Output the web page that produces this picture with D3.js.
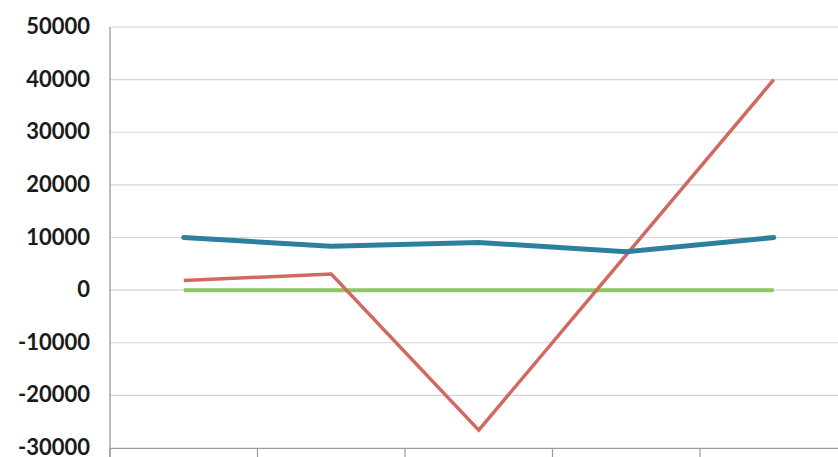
<!DOCTYPE html>
<html><head><meta charset="utf-8">
<script src="https://cdn.jsdelivr.net/npm/d3@7"></script>
<style>html,body{margin:0;padding:0;background:#fff;overflow:hidden}svg{display:block}</style>
</head><body>
<svg id="c" width="838" height="457"></svg>
<script>
const categories = ["1", "2", "3", "4", "5"];
const blueValues = [10000, 8350, 9050, 7300, 10000];
const redValues = [1850, 3050, -26600, 6700, 40000];
const greenValues = [0, 0, 0, 0, 0];
const yTicks = [50000, 40000, 30000, 20000, 10000, 0, -10000, -20000, -30000];

const svg = d3.select("#c");
const x = d3.scaleBand().domain(categories).range([110, 847.5]);
const y = d3.scaleLinear().domain([-30000, 50000]).range([448, 27]);

// gridlines
svg.append("g").selectAll("line").data(yTicks).join("line")
  .attr("x1", 110).attr("x2", 838)
  .attr("y1", d => y(d)).attr("y2", d => y(d))
  .attr("stroke", "#d4d4d4").attr("stroke-width", 1.2);

// y axis
const yAxis = d3.axisLeft(y).tickValues(yTicks).tickSize(0).tickPadding(20).tickFormat(d => String(d));
const gy = svg.append("g").attr("transform", "translate(110,0)").call(yAxis);
gy.select(".domain").attr("stroke", "#9a9a9a").attr("stroke-width", 1.3)
  .attr("d", `M0,${y(50000)}V457`);
gy.selectAll("text").attr("font-family", "Lato, 'Open Sans', sans-serif")
  .attr("font-weight", "bold").attr("font-size", 22).attr("fill", "#1a1a1a")
  .attr("dy", "0.3em");

// x axis baseline and category separators
const xAxis = d3.axisBottom(x).tickSize(0).tickFormat("");
const gx = svg.append("g").attr("transform", `translate(0,${y(-30000)})`).call(xAxis);
gx.select(".domain").attr("stroke", "#9a9a9a").attr("stroke-width", 1.2);
const seps = categories.map(c => x(c)).concat([x(categories[categories.length-1]) + x.bandwidth()]);
svg.append("g").selectAll("line").data(seps).join("line")
  .attr("x1", d => d).attr("x2", d => d)
  .attr("y1", y(-30000)).attr("y2", 457)
  .attr("stroke", "#9a9a9a").attr("stroke-width", 1.2);

const line = d3.line().x((d, i) => x(categories[i]) + x.bandwidth() / 2).y(d => y(d));
svg.append("path").datum(greenValues).attr("d", line).attr("fill", "none")
  .attr("stroke", "#8cc85e").attr("stroke-width", 4);
svg.append("path").datum(redValues).attr("d", line).attr("fill", "none")
  .attr("stroke", "#d0695f").attr("stroke-width", 3.5).attr("stroke-linejoin", "miter");
svg.append("path").datum(blueValues).attr("d", line).attr("fill", "none")
  .attr("stroke", "#2e7e9e").attr("stroke-width", 5).attr("stroke-linecap", "round");
</script>
</body></html>
